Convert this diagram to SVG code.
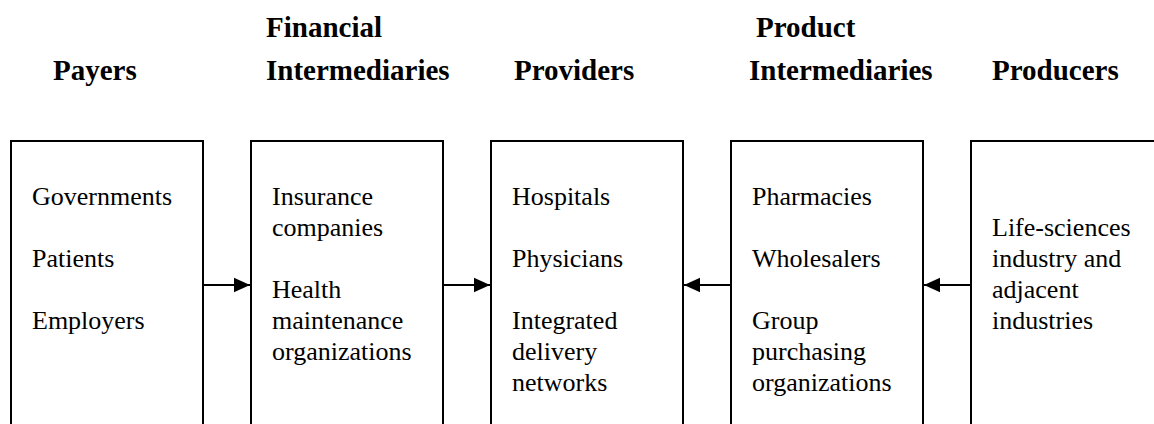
<svg xmlns="http://www.w3.org/2000/svg" width="1154" height="424" viewBox="0 0 1154 424">
  <style>
    text { font-family: 'Liberation Serif', 'Times New Roman', Tinos, 'DejaVu Serif', serif; fill: #000; }
    .hdr { font-size: 29px; font-weight: bold; }
    .txt { font-size: 26px; }
    .box { fill: none; stroke: #000; stroke-width: 2; }
    .link { stroke: #000; stroke-width: 2; fill: none; }
  </style>
  <defs>
    <marker id="arrow" markerWidth="8" markerHeight="8" refX="8" refY="4" orient="auto" markerUnits="strokeWidth">
      <path d="M0,0.4 L8,4 L0,7.6 Z" fill="#000"/>
    </marker>
  </defs>
  <rect width="1154" height="424" fill="#fff"/>

  <!-- column headings -->
  <g id="headings">
    <text class="hdr" x="53" y="80">Payers</text>
    <text class="hdr" x="266" y="37">Financial</text>
    <text class="hdr" x="266" y="80">Intermediaries</text>
    <text class="hdr" x="514" y="80">Providers</text>
    <text class="hdr" x="756" y="37">Product</text>
    <text class="hdr" x="749" y="80">Intermediaries</text>
    <text class="hdr" x="992" y="80">Producers</text>
  </g>

  <g id="payers">
    <path class="box" d="M11,432 V141 H203 V432"/>
    <text class="txt" x="32" y="205">Governments</text>
    <text class="txt" x="32" y="267">Patients</text>
    <text class="txt" x="32" y="329">Employers</text>
  </g>

  <g id="financial-intermediaries">
    <path class="box" d="M251,432 V141 H443 V432"/>
    <text class="txt" x="272" y="205">Insurance</text>
    <text class="txt" x="272" y="236">companies</text>
    <text class="txt" x="272" y="298">Health</text>
    <text class="txt" x="272" y="329">maintenance</text>
    <text class="txt" x="272" y="360">organizations</text>
  </g>

  <g id="providers">
    <path class="box" d="M491,432 V141 H683 V432"/>
    <text class="txt" x="512" y="205">Hospitals</text>
    <text class="txt" x="512" y="267">Physicians</text>
    <text class="txt" x="512" y="329">Integrated</text>
    <text class="txt" x="512" y="360">delivery</text>
    <text class="txt" x="512" y="391">networks</text>
  </g>

  <g id="product-intermediaries">
    <path class="box" d="M731,432 V141 H923 V432"/>
    <text class="txt" x="752" y="205">Pharmacies</text>
    <text class="txt" x="752" y="267">Wholesalers</text>
    <text class="txt" x="752" y="329">Group</text>
    <text class="txt" x="752" y="360">purchasing</text>
    <text class="txt" x="752" y="391">organizations</text>
  </g>

  <g id="producers">
    <path class="box" d="M971,432 V141 H1160"/>
    <text class="txt" x="992" y="236">Life-sciences</text>
    <text class="txt" x="992" y="267">industry and</text>
    <text class="txt" x="992" y="298">adjacent</text>
    <text class="txt" x="992" y="329">industries</text>
  </g>

  <!-- flows between the stages -->
  <g id="connectors">
    <line class="link" x1="203" y1="285" x2="250" y2="285" marker-end="url(#arrow)"/>
    <line class="link" x1="443" y1="285" x2="490" y2="285" marker-end="url(#arrow)"/>
    <line class="link" x1="731" y1="285" x2="684" y2="285" marker-end="url(#arrow)"/>
    <line class="link" x1="971" y1="285" x2="924" y2="285" marker-end="url(#arrow)"/>
  </g>
</svg>
